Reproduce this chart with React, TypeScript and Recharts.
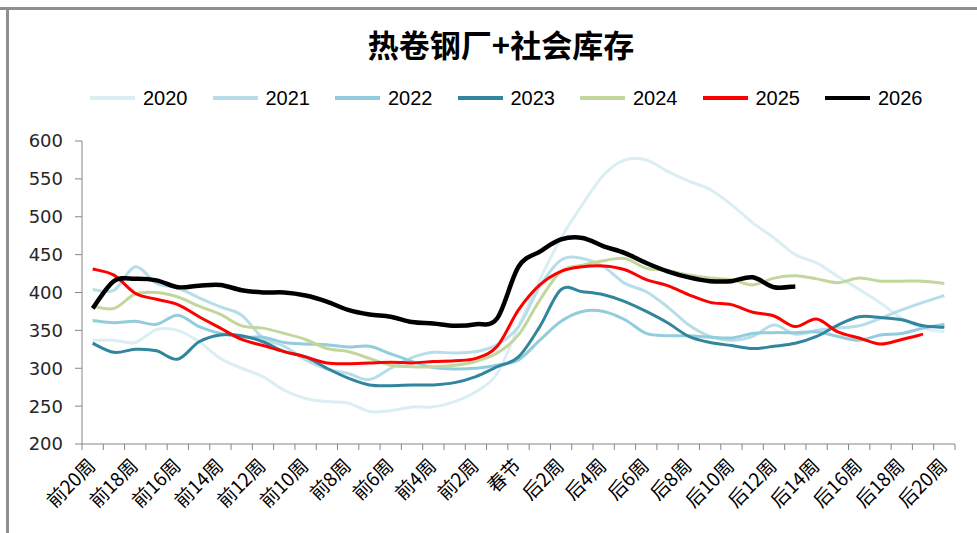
import { LineChart, Line, XAxis, YAxis, Legend } from "recharts";

const weeks = [
  "前20周", "前19周", "前18周", "前17周", "前16周", "前15周", "前14周", "前13周", "前12周", "前11周",
  "前10周", "前9周", "前8周", "前7周", "前6周", "前5周", "前4周", "前3周", "前2周", "前1周",
  "春节",
  "后1周", "后2周", "后3周", "后4周", "后5周", "后6周", "后7周", "后8周", "后9周", "后10周",
  "后11周", "后12周", "后13周", "后14周", "后15周", "后16周", "后17周", "后18周", "后19周", "后20周",
];

const y2020 = [337, 337, 334, 351, 350, 335, 313, 300, 289, 271, 260, 256, 254, 243, 244, 249, 249, 256, 269, 293, 355, 417, 472, 516, 555, 575, 575, 560, 547, 536, 516, 492, 472, 450, 439, 421, 404, 386, 366, 353, 348];
const y2021 = [404, 403, 434, 412, 406, 393, 381, 370, 340, 329, 311, 299, 293, 285, 300, 314, 321, 320, 322, 331, 355, 408, 443, 445, 434, 412, 401, 381, 357, 342, 337, 342, 357, 345, 350, 353, 356, 366, 377, 387, 396];
const y2022 = [363, 360, 362, 358, 370, 355, 346, 341, 341, 334, 332, 331, 328, 329, 319, 309, 301, 299, 300, 304, 311, 337, 362, 375, 375, 364, 346, 343, 343, 341, 340, 346, 347, 347, 348, 342, 337, 344, 346, 353, 358];
const y2023 = [333, 321, 325, 323, 312, 335, 344, 343, 335, 322, 315, 300, 287, 278, 277, 278, 278, 281, 289, 302, 315, 355, 404, 401, 397, 388, 375, 360, 342, 334, 330, 326, 329, 333, 342, 357, 368, 367, 364, 356, 354];
const y2024 = [382, 379, 398, 400, 394, 382, 371, 356, 353, 346, 338, 326, 322, 313, 304, 302, 302, 304, 309, 320, 344, 390, 428, 436, 442, 445, 432, 429, 423, 419, 417, 410, 419, 422, 418, 413, 419, 415, 415, 415, 412];
const y2025 = [431, 423, 399, 391, 384, 368, 353, 338, 330, 322, 315, 307, 306, 307, 308, 307, 309, 310, 313, 329, 377, 410, 428, 434, 435, 430, 417, 409, 397, 387, 384, 374, 369, 355, 365, 348, 340, 332, 338, 345];
const y2026 = [379, 415, 418, 416, 407, 409, 410, 403, 400, 400, 396, 388, 377, 371, 368, 361, 359, 356, 358, 366, 434, 454, 470, 472, 461, 452, 439, 428, 420, 415, 415, 420, 407, 408];

const yTicks = [200, 250, 300, 350, 400, 450, 500, 550, 600];

const series = [
  { key: "y2020", name: "2020", color: "#DAEEF3", width: 3, values: y2020 },
  { key: "y2021", name: "2021", color: "#B7DEE8", width: 3, values: y2021 },
  { key: "y2022", name: "2022", color: "#93CDDD", width: 3, values: y2022 },
  { key: "y2023", name: "2023", color: "#31859C", width: 3, values: y2023 },
  { key: "y2024", name: "2024", color: "#C3D69B", width: 3, values: y2024 },
  { key: "y2025", name: "2025", color: "#FF0000", width: 3, values: y2025 },
  { key: "y2026", name: "2026", color: "#000000", width: 4.5, values: y2026 },
];

const data = weeks.map((w, i) => {
  const row: Record<string, number | string | undefined> = { idx: i, week: w };
  series.forEach((s) => {
    row[s.key] = s.values[i];
  });
  return row;
});

// tick at every category boundary (marks) and at every category centre (labels)
const xTicks = weeks.flatMap((_, i) => [i - 0.5, i]).concat(weeks.length - 0.5);

const axisGray = "#868686";

// Excel-style smoothed line (Catmull-Rom through every point)
function excelSmooth(context: any) {
  let pts: number[][] = [];
  return {
    areaStart() {},
    areaEnd() {},
    lineStart() {
      pts = [];
    },
    point(x: number, y: number) {
      pts.push([+x, +y]);
    },
    lineEnd() {
      if (!pts.length) return;
      context.moveTo(pts[0][0], pts[0][1]);
      for (let i = 0; i < pts.length - 1; i++) {
        const p0 = pts[i - 1] || pts[i];
        const p1 = pts[i];
        const p2 = pts[i + 1];
        const p3 = pts[i + 2] || p2;
        context.bezierCurveTo(
          p1[0] + (p2[0] - p0[0]) / 6,
          p1[1] + (p2[1] - p0[1]) / 6,
          p2[0] - (p3[0] - p1[0]) / 6,
          p2[1] - (p3[1] - p1[1]) / 6,
          p2[0],
          p2[1]
        );
      }
    },
  };
}

function WeekTick({ x, y, payload }: any) {
  const v = payload.value;
  if (!Number.isInteger(v)) {
    return <line x1={x} x2={x} y1={y} y2={y + 6} stroke={axisGray} strokeWidth={1} />;
  }
  if (v % 2 !== 0) return <g />;
  const tx = x + 4;
  const ty = y + 23;
  return (
    <text
      x={tx}
      y={ty}
      transform={`rotate(-45 ${tx} ${ty})`}
      textAnchor="end"
      fontSize={19}
      fontFamily="'Noto Sans CJK SC', sans-serif"
      fill="#000"
    >
      {weeks[v]}
    </text>
  );
}

function renderLegend(props: any) {
  return (
    <div style={{ display: "flex", height: 24, alignItems: "center" }}>
      {props.payload.map((e: any) => (
        <div key={e.value} style={{ display: "flex", alignItems: "center", marginRight: 25 }}>
          <svg width={45} height={6}>
            <line x1={0} x2={45} y1={3} y2={3} stroke={e.color} strokeWidth={4} />
          </svg>
          <span
            style={{
              marginLeft: 8,
              fontSize: 20,
              fontFamily: "'Liberation Sans', sans-serif",
              color: "#000",
              lineHeight: "24px",
            }}
          >
            {e.value}
          </span>
        </div>
      ))}
    </div>
  );
}

export default function App() {
  return (
    <div style={{ position: "absolute", left: 0, top: 0, width: 977, height: 533, background: "#fff", overflow: "hidden" }}>
      <div style={{ position: "absolute", left: 0, top: 7, width: 977, height: 3, background: "#8f8f8f" }} />
      <div style={{ position: "absolute", left: 6, top: 7, width: 3, height: 526, background: "#8f8f8f" }} />
      <div
        style={{
          position: "absolute",
          left: 0,
          top: 24,
          width: 1002,
          textAlign: "center",
          fontSize: 31,
          fontWeight: 700,
          fontFamily: "'Noto Sans CJK SC', sans-serif",
          color: "#000",
          lineHeight: "40px",
        }}
      >
        热卷钢厂+社会库存
      </div>
      <div style={{ position: "absolute", left: 0, top: 0 }}>
        <LineChart width={977} height={533} data={data} margin={{ top: 117, right: 22, bottom: 0, left: 20 }}>
          <XAxis
            dataKey="idx"
            type="number"
            domain={[-0.5, weeks.length - 0.5]}
            ticks={xTicks}
            interval={0}
            tick={<WeekTick />}
            tickLine={false}
            tickSize={0}
            tickMargin={0}
            height={89}
            axisLine={{ stroke: axisGray }}
          />
          <YAxis
            domain={[200, 600]}
            ticks={yTicks}
            interval={0}
            width={62}
            tickSize={7}
            tickMargin={12}
            axisLine={{ stroke: axisGray }}
            tickLine={{ stroke: axisGray }}
            tick={{ fontSize: 18, fill: "#262626", fontFamily: "'DejaVu Sans', sans-serif" }}
          />
          <Legend
            verticalAlign="top"
            align="left"
            content={renderLegend}
            wrapperStyle={{ top: 86, left: 90, width: 860 }}
          />
          {series.map((s) => (
            <Line
              key={s.key}
              dataKey={s.key}
              name={s.name}
              type={excelSmooth as any}
              stroke={s.color}
              strokeWidth={s.width}
              dot={false}
              activeDot={false}
              isAnimationActive={false}
            />
          ))}
        </LineChart>
      </div>
    </div>
  );
}
